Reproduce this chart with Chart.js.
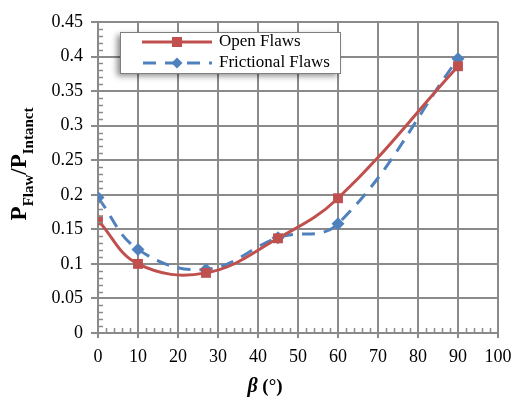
<!DOCTYPE html>
<html>
<head>
<meta charset="utf-8">
<script src="https://cdn.jsdelivr.net/npm/chart.js@4.4.0/dist/chart.umd.min.js"></script>
<style>
  body { margin: 0; background: #fff; }
  #wrap { width: 513px; height: 406px; position: relative; }
</style>
</head>
<body>
<div id="wrap"><canvas id="chart" width="513" height="406"></canvas></div>
<script>
// beta angles (deg) and normalised peak strength
var angles = [0, 10, 27, 45, 60, 90];
var openFlaws = [0.163, 0.100, 0.087, 0.137, 0.195, 0.386];
var frictionalFlaws = [0.196, 0.121, 0.092, 0.138, 0.158, 0.397];
var xTicks = [0, 10, 20, 30, 40, 50, 60, 70, 80, 90, 100];
var yTicks = [0, 0.05, 0.1, 0.15, 0.2, 0.25, 0.3, 0.35, 0.4, 0.45];

var RED = '#C0504D';
var BLUE = '#4F81BD';
var GRID = '#8a8a8a';
var SERIF = "'Liberation Serif', 'Times New Roman', serif";

Chart.defaults.font.family = SERIF;

function toPoints(xs, ys){
	return xs.map(function(x, i){ return {x: x, y: ys[i]}; });
}

// minor ticks, axis titles and the boxed legend
var extras = {
	id: 'extras',
	afterDraw: function(chart){
		var c = chart.ctx;
		var xs = chart.scales.x, ys = chart.scales.y;
		var a = chart.chartArea;
		c.save();
		c.strokeStyle = GRID;
		c.lineWidth = 1.5;
		c.beginPath();
		for(var v = 0; v <= 100; v += 2){
			if(v % 10 === 0) continue;
			var px = Math.round(xs.getPixelForValue(v)) + 0.5;
			c.moveTo(px, a.bottom);
			c.lineTo(px, a.bottom - 5);
		}
		for(var k = 0; k <= 45; k++){
			if(k % 5 === 0) continue;
			var py = Math.round(ys.getPixelForValue(k / 100)) + 0.5;
			c.moveTo(a.left, py);
			c.lineTo(a.left + 5, py);
		}
		c.stroke();

		// x title
		c.fillStyle = '#000';
		c.textBaseline = 'alphabetic';
		c.textAlign = 'left';
		c.font = 'italic bold 20px ' + SERIF;
		var wb = c.measureText('β').width;
		c.font = 'bold 19px ' + SERIF;
		var wr = c.measureText(' (°)').width;
		var sx = 265 - (wb + wr) / 2;
		c.font = 'italic bold 20px ' + SERIF;
		c.fillText('β', sx, 392);
		c.font = 'bold 19px ' + SERIF;
		c.fillText(' (°)', sx + wb, 392);

		// y title with subscripts
		var parts = [
			['P', 'bold 23px ', 0],
			['Flaw', 'bold 15px ', 7],
			['/P', 'bold 23px ', 0],
			['Intanct', 'bold 15px ', 7]
		];
		var total = 0;
		parts.forEach(function(p){
			c.font = p[1] + SERIF;
			p.push(c.measureText(p[0]).width);
			total += p[3];
		});
		c.translate(26, 164);
		c.rotate(-Math.PI / 2);
		var off = -total / 2;
		parts.forEach(function(p){
			c.font = p[1] + SERIF;
			c.fillText(p[0], off, p[2]);
			off += p[3];
		});
		c.restore();

		// legend box
		c.save();
		c.shadowColor = 'rgba(0,0,0,0.45)';
		c.shadowBlur = 6;
		c.shadowOffsetX = -3;
		c.shadowOffsetY = 3;
		c.fillStyle = '#fff';
		c.fillRect(120, 32, 220, 41);
		c.restore();
		c.save();
		c.strokeStyle = '#7f7f7f';
		c.lineWidth = 1;
		c.strokeRect(120.5, 32.5, 220, 41);

		c.lineWidth = 3;
		c.strokeStyle = RED;
		c.beginPath(); c.moveTo(142, 42); c.lineTo(212, 42); c.stroke();
		c.fillStyle = RED;
		c.fillRect(172, 37, 10, 10);

		c.strokeStyle = BLUE;
		c.setLineDash([13, 9]);
		c.beginPath(); c.moveTo(143, 63); c.lineTo(212, 63); c.stroke();
		c.setLineDash([]);
		c.fillStyle = BLUE;
		c.beginPath();
		c.moveTo(177, 57.5); c.lineTo(182.5, 63); c.lineTo(177, 68.5); c.lineTo(171.5, 63);
		c.closePath(); c.fill();

		c.fillStyle = '#000';
		c.font = '17px ' + SERIF;
		c.textBaseline = 'middle';
		c.fillText('Open Flaws', 219, 42);
		c.fillText('Frictional Flaws', 219, 63);
		c.restore();
	}
};

var ctx = document.getElementById('chart');

new Chart(ctx, {
	type: 'line',
	data: {
		datasets: [{
			label: 'Open Flaws',
			data: toPoints(angles, openFlaws),
			borderColor: RED,
			backgroundColor: RED,
			borderWidth: 3,
			tension: 0.4,
			pointStyle: 'rect',
			pointRadius: 7,
			pointBorderWidth: 0
		}, {
			label: 'Frictional Flaws',
			data: toPoints(angles, frictionalFlaws),
			borderColor: BLUE,
			backgroundColor: BLUE,
			borderWidth: 3,
			borderDash: [13, 9],
			tension: 0.4,
			pointStyle: 'rectRot',
			pointRadius: 6.5,
			pointBorderWidth: 0
		}]
	},
	options: {
		responsive: false,
		animation: false,
		layout: { padding: { left: 0, top: 22, right: 15, bottom: 0 } },
		plugins: {
			legend: { display: false },
			tooltip: { enabled: false }
		},
		scales: {
			x: {
				type: 'linear',
				min: 0, max: 100,
				afterBuildTicks: function(s){ s.ticks = xTicks.map(function(v){ return {value: v}; }); },
				afterFit: function(s){ s.height = 73; s.paddingLeft = 0; s.paddingRight = 0; },
				grid: { color: GRID, lineWidth: 2, tickLength: 5, drawTicks: true },
				border: { color: GRID, width: 2 },
				ticks: {
					color: '#000',
					padding: 8,
					maxRotation: 0,
					font: { family: SERIF, size: 18 }
				}
			},
			y: {
				min: 0, max: 0.45,
				afterBuildTicks: function(s){ s.ticks = yTicks.map(function(v){ return {value: v}; }); },
				afterFit: function(s){ s.width = 98; s.paddingTop = 0; s.paddingBottom = 0; },
				grid: { color: GRID, lineWidth: 2, tickLength: 7 },
				border: { color: GRID, width: 2 },
				ticks: {
					color: '#000',
					padding: 8,
					font: { family: SERIF, size: 18 },
					callback: function(v){ return String(Math.round(v * 100) / 100); }
				}
			}
		}
	},
	plugins: [extras]
});
</script>
</body>
</html>
